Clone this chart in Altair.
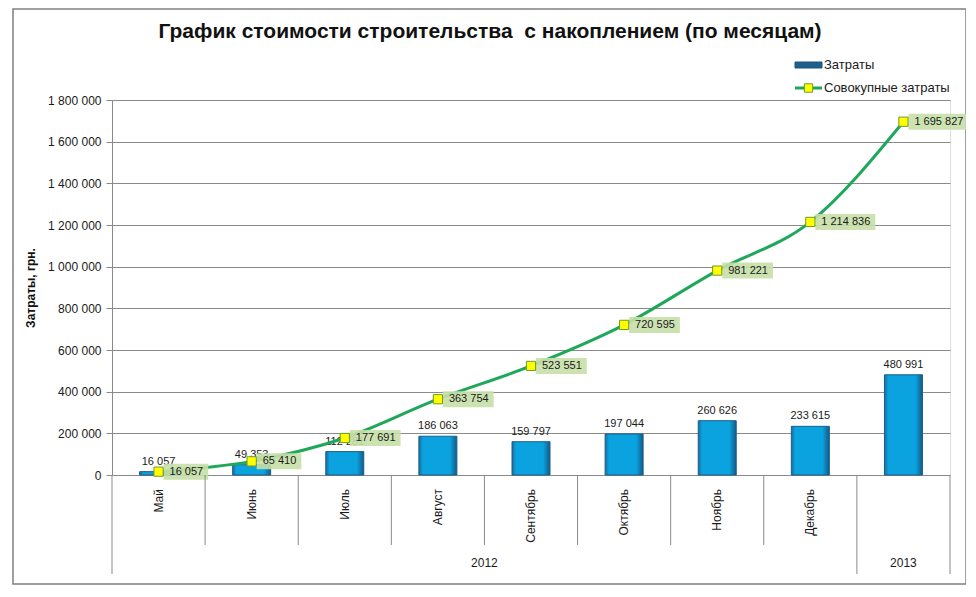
import altair as alt
import pandas as pd

# ---------------- data ----------------
months = ["Май", "Июнь", "Июль", "Август", "Сентябрь", "Октябрь", "Ноябрь", "Декабрь", ""]
years = ["2012", "2012", "2012", "2012", "2012", "2012", "2012", "2012", "2013"]
costs = [16057, 49353, 112281, 186063, 159797, 197044, 260626, 233615, 480991]
cumulative = [16057, 65410, 177691, 363754, 523551, 720595, 981221, 1214836, 1695827]
y_ticks = [0, 200000, 400000, 600000, 800000, 1000000, 1200000, 1400000, 1600000, 1800000]

TITLE = "График стоимости строительства\u00a0 с накоплением (по месяцам)"
Y_TITLE = "Затраты, грн."
LEG_BARS = "Затраты"
LEG_LINE = "Совокупные затраты"

W, H = 838, 375
N = len(months)
BAND = W / N

def fmt(v):
    return f"{v:,}".replace(",", " ")

def text_px(s, digit=6.12, space=3.06):
    return sum(digit if ch.isdigit() else space for ch in s)

df = pd.DataFrame({
    "idx": list(range(N)),
    "month": months,
    "year": years,
    "cost": costs,
    "cum": cumulative,
})
df["cum_lbl"] = df["cum"].apply(fmt)
df["box_end"] = df["idx"] + df["cum_lbl"].apply(lambda s: (16 + text_px(s)) / BAND)

# separators of the two-level category axis
short_b, long_b = [], [-0.5, N - 0.5]
for i in range(N - 1):
    (short_b if years[i] == years[i + 1] else long_b).append(i + 0.5)
sep_short = pd.DataFrame({"b": short_b})
sep_long = pd.DataFrame({"b": long_b})
year_df = df.groupby("year", as_index=False)["idx"].mean()

xs = alt.Scale(domain=[-0.5, N - 0.5], nice=False, zero=False, padding=0)
ys = alt.Scale(domain=[0, 1800000], nice=False)
X = alt.X("idx:Q", scale=xs, axis=None)

FONT = "Liberation Sans"
GRID = "#8a8a8a"
GREEN = "#1FA85A"

bar_grad = alt.Gradient(
    gradient="linear",
    stops=[
        alt.GradientStop(color="#1C6A98", offset=0),
        alt.GradientStop(color="#0AA2DF", offset=0.1),
        alt.GradientStop(color="#0AA2DF", offset=0.82),
        alt.GradientStop(color="#135A86", offset=1),
    ],
    x1=0, x2=1, y1=0, y2=0,
)

bars = alt.Chart(df).mark_bar(size=38, color=bar_grad, stroke="#1B5E88", strokeWidth=1).encode(
    x=X,
    y=alt.Y("cost:Q", scale=ys, axis=alt.Axis(
        values=y_ticks, format=",d", grid=True, gridColor=GRID, gridWidth=1,
        domainColor=GRID, tickColor=GRID, tickSize=6, labelPadding=5,
        labelFontSize=12, labelColor="#1a1a1a", labelFont=FONT,
        title=Y_TITLE, titleFont=FONT, titleFontSize=12, titleFontWeight="bold",
        titleColor="#111", titleAngle=270, titleX=-82, titleY=H / 2,
        titleAlign="center", titleBaseline="middle",
    )),
)

bar_lbl = alt.Chart(df).mark_text(baseline="bottom", dy=-5, fontSize=11, font=FONT, color="#1a1a1a").encode(
    x=X, y=alt.Y("cost:Q", scale=ys), text=alt.Text("cost:Q", format=",d"),
)

line = alt.Chart(df).mark_line(interpolate="monotone", color=GREEN, strokeWidth=3).encode(
    x=X, y=alt.Y("cum:Q", scale=ys),
)

boxes = alt.Chart(df).mark_rect(fill="#C6DFA9", opacity=0.9, xOffset=5, yOffset=-8, y2Offset=8).encode(
    x=X, x2="box_end:Q", y=alt.Y("cum:Q", scale=ys), y2="cum:Q",
)

markers = alt.Chart(df).mark_square(size=85, fill="#FFFF00", stroke="#6F9A22", strokeWidth=1, opacity=1).encode(
    x=X, y=alt.Y("cum:Q", scale=ys),
)

cum_lbl = alt.Chart(df).mark_text(align="left", baseline="middle", dx=11, fontSize=11, font=FONT, color="#1a1a1a").encode(
    x=X, y=alt.Y("cum:Q", scale=ys), text="cum_lbl:N",
)

month_lbl = alt.Chart(df).mark_text(angle=270, align="right", baseline="middle", fontSize=12, font=FONT, color="#1a1a1a").encode(
    x=X, y=alt.value(H + 14), text="month:N",
)

year_lbl = alt.Chart(year_df).mark_text(baseline="middle", fontSize=12, font=FONT, color="#1a1a1a").encode(
    x=X, y=alt.value(H + 88), text="year:N",
)

sep1 = alt.Chart(sep_short).mark_rule(color=GRID, strokeWidth=1).encode(
    x=alt.X("b:Q", scale=xs, axis=None), y=alt.value(H), y2=alt.value(H + 70),
)
sep2 = alt.Chart(sep_long).mark_rule(color=GRID, strokeWidth=1).encode(
    x=alt.X("b:Q", scale=xs, axis=None), y=alt.value(H), y2=alt.value(H + 99),
)

one = pd.DataFrame({"k": [0]})

title = alt.Chart(one).mark_text(fontSize=21, fontWeight="bold", font=FONT, color="#111", baseline="middle").encode(
    x=alt.value(378), y=alt.value(-68), text=alt.value(TITLE),
)

frame = alt.Chart(one).mark_rect(fill="transparent", stroke="#808080", strokeWidth=1.5).encode(
    x=alt.value(-99), x2=alt.value(854), y=alt.value(-91), y2=alt.value(484),
)

leg_sw = alt.Chart(one).mark_rect(fill="#1F5F8B", stroke="#17557E").encode(
    x=alt.value(683), x2=alt.value(710), y=alt.value(-38), y2=alt.value(-32),
)
leg_line = alt.Chart(one).mark_rule(color=GREEN, strokeWidth=3).encode(
    x=alt.value(683), x2=alt.value(710), y=alt.value(-12),
)
leg_pt = alt.Chart(one).mark_square(size=70, fill="#FFFF00", stroke="#6F9A22", strokeWidth=1, opacity=1).encode(
    x=alt.value(696.5), y=alt.value(-12),
)
leg_t1 = alt.Chart(one).mark_text(align="left", baseline="middle", fontSize=13, font=FONT, color="#1a1a1a").encode(
    x=alt.value(712), y=alt.value(-35), text=alt.value(LEG_BARS),
)
leg_t2 = alt.Chart(one).mark_text(align="left", baseline="middle", fontSize=13, font=FONT, color="#1a1a1a").encode(
    x=alt.value(712), y=alt.value(-12), text=alt.value(LEG_LINE),
)

chart = alt.layer(
    frame, bars, bar_lbl, line, boxes, markers, cum_lbl,
    sep1, sep2, month_lbl, year_lbl, title,
    leg_sw, leg_line, leg_pt, leg_t1, leg_t2,
).properties(
    width=W, height=H,
    padding={"left": 104, "top": 92, "right": 16, "bottom": 110},
    autosize=alt.AutoSizeParams(type="none"),
    background="white",
).configure_view(stroke="transparent").configure(
    locale={"number": {"decimal": ",", "thousands": " ", "grouping": [3], "currency": ["", ""]}}
)

chart.save("out.html", embed_options={"renderer": "svg", "actions": False})
